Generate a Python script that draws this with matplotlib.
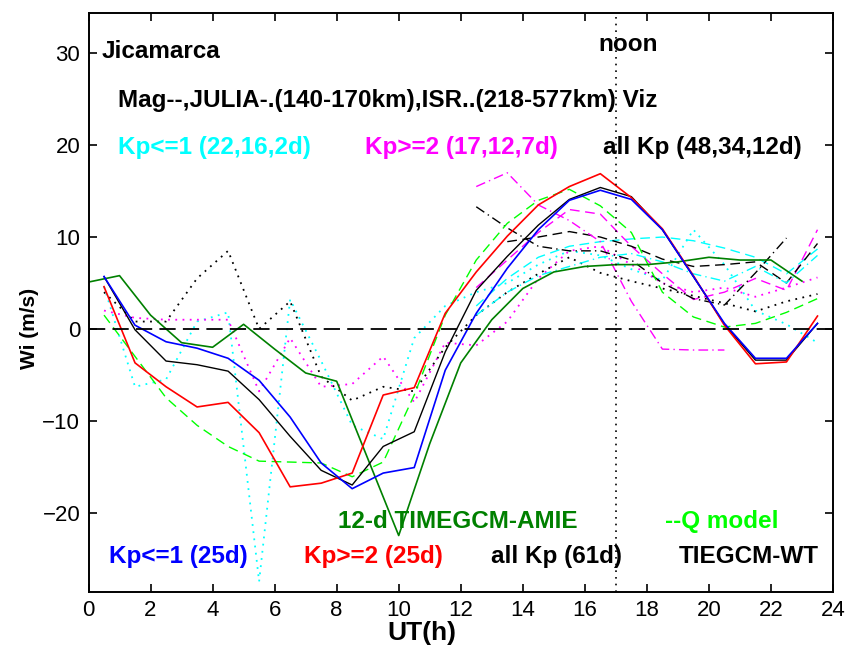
import matplotlib
matplotlib.use("Agg")
import matplotlib.pyplot as plt
import numpy as np

# half-hour UT grid used by the ISR / JULIA / magnetometer averages
UT = np.arange(0.5, 24.0, 1.0)
UT_DAY = np.arange(12.5, 24.0, 1.0)
UT_HOURLY = np.arange(0, 24, 1.0)

# ISR, solid (Viz)
isr_kp_low = [5.7, 0.4, -1.4, -2.1, -3.2, -5.6, -9.6, -14.6, -17.4, -15.7, -15.1, -4.5,
              1.7, 6.6, 10.8, 14.0, 15.1, 14.1, 10.8, 5.7, 0.6, -3.2, -3.2, 0.6]
isr_kp_high = [4.6, -3.7, -6.3, -8.5, -8.0, -11.3, -17.2, -16.8, -15.7, -7.2, -6.4, 1.7,
               6.2, 10.1, 13.5, 15.5, 16.9, 14.3, 10.9, 5.8, 0.4, -3.8, -3.6, 1.4]
isr_all = [5.7, -0.1, -3.5, -3.9, -4.6, -7.7, -11.7, -15.4, -17.0, -12.8, -11.2, -2.5,
           4.2, 7.9, 11.3, 14.1, 15.4, 14.4, 10.8, 5.7, 0.5, -3.4, -3.4, 0.6]

# ISR, dotted (218-577 km)
isrh_kp_low = [4.6, -6.3, -5.5, 0.8, 1.8, -27.5, 3.2, -3.5, -10.5, -12.0, -1.0, 2.5,
               4.0, 5.0, 7.0, 8.5, 8.0, 6.5, 5.3, 10.8, 7.0, 2.0, 0.5, -1.5]
isrh_kp_high = [2.0, 1.2, 1.0, 1.0, 1.0, -6.8, -1.0, -6.3, -6.0, -3.0, -8.0, -1.5,
                -1.8, 0.8, 5.5, 8.5, 9.0, 7.0, 5.0, 4.0, 4.5, 3.5, 4.5, 5.6]
isrh_all = [4.0, 0.8, 0.8, 5.5, 8.5, 0.0, 3.0, -5.2, -7.8, -6.3, -6.8, -2.0,
            1.5, 4.0, 6.0, 7.8, 6.1, 5.2, 4.4, 3.6, 2.8, 1.9, 3.0, 3.8]

# magnetometer, dashed (daytime only)
mag_kp_low = [2.5, 5.5, 7.8, 9.0, 9.5, 9.8, 10.0, 9.6, 8.8, 7.8, 6.0, 8.7]
mag_kp_high = [4.5, 7.5, 10.5, 13.0, 12.5, 9.0, 6.0, 3.2, 4.0, 5.5, 4.2, 10.8]
mag_all = [np.nan, 9.5, 10.0, 10.6, 10.0, 9.0, 7.6, 6.8, 7.0, 7.3, 5.0, 9.3]

# JULIA 140-170 km, dash-dot (daytime only)
julia_kp_low = [1.5, 4.0, 5.8, 6.8, 7.8, 8.2, 7.3, 6.0, 5.2, 6.8, 5.0, 8.0]
julia_kp_high = [15.5, 17.0, 13.5, 11.8, 9.5, 3.0, -2.2, -2.3, -2.3, np.nan, np.nan, np.nan]
julia_all = [13.3, 11.0, 9.0, 8.5, 8.5, 7.5, 5.0, 3.3, 2.6, 6.1, 9.9, np.nan]

# models
amie = [5.1, 5.8, 1.5, -1.5, -2.0, 0.5, -2.2, -4.8, -5.7, -14.1, -22.5, -12.5,
        -3.7, 1.0, 4.4, 6.2, 6.8, 7.0, 7.0, 7.3, 7.8, 7.5, 7.5, 5.2]
q_model = [1.5, -3.0, -7.5, -10.5, -12.8, -14.4, -14.5, -14.6, -16.1, -14.5, -7.2, 1.5,
           7.5, 11.5, 14.0, 15.2, 13.4, 10.5, 4.0, 1.3, 0.2, 0.6, 1.8, 3.3]

CYAN, MAGENTA, GREEN_DK, LIME = "#00FFFF", "#FF00FF", "#008000", "#00FF00"
DOT = (0, (1, 3))
DASH = (0, (7, 4))
DASHDOT = (0, (7, 3, 1, 3))

plt.rcParams["font.family"] = ["Liberation Sans", "DejaVu Sans"]

fig = plt.figure(figsize=(8.46, 6.58), dpi=100)
ax = fig.add_axes([88.5 / 846, 1 - 592 / 658, (833 - 88.5) / 846, (592 - 13) / 658])

lw = 1.0
ax.plot(UT, isrh_kp_low, color=CYAN, ls=DOT, lw=1.3)
ax.plot(UT, isrh_kp_high, color=MAGENTA, ls=DOT, lw=1.3)
ax.plot(UT, isrh_all, color="k", ls=DOT, lw=1.3)
ax.plot(UT_DAY, mag_kp_low, color=CYAN, ls=DASH, lw=lw)
ax.plot(UT_DAY, mag_kp_high, color=MAGENTA, ls=DASH, lw=lw)
ax.plot(UT_DAY, mag_all, color="k", ls=DASH, lw=lw)
ax.plot(UT_DAY, julia_kp_low, color=CYAN, ls=DASHDOT, lw=lw)
ax.plot(UT_DAY, julia_kp_high, color=MAGENTA, ls=DASHDOT, lw=lw)
ax.plot(UT_DAY, julia_all, color="k", ls=DASHDOT, lw=lw)
ax.plot(UT, q_model, color=LIME, ls=DASH, lw=lw)
ax.plot(UT_HOURLY, amie, color=GREEN_DK, lw=1.2)
ax.plot(UT, isr_all, color="k", lw=lw)
ax.plot(UT, isr_kp_high, color="r", lw=1.2)
ax.plot(UT, isr_kp_low, color="b", lw=1.2)

ax.axhline(0, color="k", ls=(0, (9, 4)), lw=1.3)
ax.axvline(17, color="k", ls=DOT, lw=1.2)

ax.set_xlim(0, 24)
ax.set_ylim(-28.65, 34.4)
ax.set_xticks(np.arange(0, 25, 2))
ax.set_yticks([-20, -10, 0, 10, 20, 30])
ax.tick_params(direction="in", top=True, right=True, length=6, width=1.2, pad=6,
               labelsize=16)
for sp in ax.spines.values():
    sp.set_linewidth(1.4)

ax.set_xlabel("UT(h)", fontsize=19, fontweight="bold")
ax.xaxis.set_label_coords(0.448, -0.05)
ax.set_ylabel("Wi (m/s)", fontsize=15, fontweight="bold")
ax.yaxis.set_label_coords(-0.066, 0.455)

fs = 17.5
txt = dict(fontsize=fs, fontweight="bold", va="center")
ax.text(0.43, 30.2, "Jicamarca", **txt)
ax.text(16.45, 31.0, "noon", **txt)
ax.text(0.95, 24.9, "Mag--,JULIA-.(140-170km),ISR..(218-577km) Viz", **txt)
ax.text(0.95, 19.8, "Kp<=1 (22,16,2d)", color=CYAN, **txt)
ax.text(8.9, 19.8, "Kp>=2 (17,12,7d)", color=MAGENTA, **txt)
ax.text(16.6, 19.8, "all Kp (48,34,12d)", color="k", **txt)
ax.text(11.9, -21.0, "12-d TIMEGCM-AMIE", color=GREEN_DK, ha="center", **txt)
ax.text(20.4, -21.0, "--Q model", color=LIME, ha="center", **txt)
ax.text(2.9, -24.8, "Kp<=1 (25d)", color="b", ha="center", **txt)
ax.text(9.2, -24.8, "Kp>=2 (25d)", color="r", ha="center", **txt)
ax.text(15.1, -24.8, "all Kp (61d)", color="k", ha="center", **txt)
ax.text(21.3, -24.8, "TIEGCM-WT", color="k", ha="center", **txt)

fig.savefig("out.png", dpi=100)
